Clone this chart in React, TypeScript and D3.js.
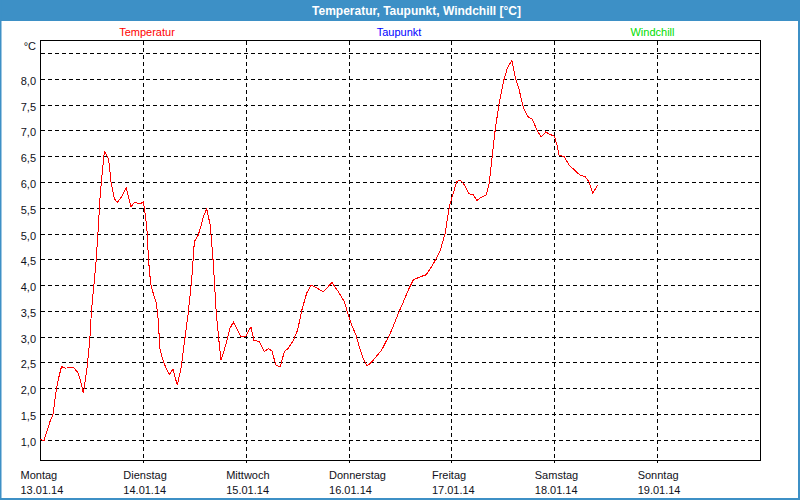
import React from "react";
import * as d3 from "d3";

const titleText = "Temperatur, Taupunkt, Windchill [°C]";
const legendLabels = ["Temperatur", "Taupunkt", "Windchill"];
const legendColors = ["#ff0000", "#0000ff", "#00dd00"];
const dayNames = ["Montag", "Dienstag", "Mittwoch", "Donnerstag", "Freitag", "Samstag", "Sonntag"];
const dayDates = ["13.01.14", "14.01.14", "15.01.14", "16.01.14", "17.01.14", "18.01.14", "19.01.14"];
const yGridValues = [1.0, 1.5, 2.0, 2.5, 3.0, 3.5, 4.0, 4.5, 5.0, 5.5, 6.0, 6.5, 7.0, 7.5, 8.0, 8.5];
const yLabelValues = [1.0, 1.5, 2.0, 2.5, 3.0, 3.5, 4.0, 4.5, 5.0, 5.5, 6.0, 6.5, 7.0, 7.5, 8.0];
const yUnit = "°C";

// hours since Mon 13.01.14 00:00
const hours = [
  0.0, 0.8, 2.2, 2.9, 3.7, 4.3, 4.9, 5.7, 7.8, 8.8, 9.3, 10.0, 10.9, 11.5, 11.9, 12.5, 13.0, 13.4, 13.9, 14.4,
  14.9, 15.4, 15.9, 16.5, 17.2, 17.9, 18.9, 20.0, 21.1, 22.0, 23.2, 24.0, 24.3, 24.8, 25.2, 25.7, 26.3, 27.0,
  27.4, 27.9, 28.7, 29.5, 30.1, 30.9, 31.4, 31.9, 32.8, 33.7, 34.5, 35.3, 35.9, 36.8, 37.4, 38.0, 38.8, 39.6,
  40.3, 41.0, 41.5, 42.1, 42.7, 43.5, 44.2, 45.0, 45.8, 46.8, 47.9, 49.1, 49.8, 51.1, 52.2, 53.2, 54.0, 54.9,
  55.9, 56.9, 57.8, 59.0, 60.0, 61.0, 62.1, 63.1, 64.5, 66.0, 68.0, 69.5, 70.9, 71.7, 72.6, 73.6, 74.6, 75.3,
  76.2, 77.3, 79.6, 81.6, 83.5, 84.9, 85.8, 87.0, 88.6, 90.0, 91.3, 93.2, 94.4, 95.4, 96.3, 97.1, 97.9, 98.7,
  100.0, 101.0, 101.8, 103.0, 104.0, 104.7, 105.3, 106.1, 107.0, 108.0, 108.9, 110.0, 110.7, 111.7, 112.7,
  113.8, 114.8, 115.8, 116.8, 117.9, 118.9, 119.9, 120.5, 121.0, 122.2, 123.3, 124.6, 125.9, 127.1, 128.0,
  128.9, 130.0
];
const temperature = [
  1.02, 0.99, 1.36, 1.50, 1.99, 2.23, 2.43, 2.40, 2.41, 2.30, 2.17, 1.91, 2.43, 2.94, 3.53, 4.04, 4.50, 5.01, 5.72, 6.18,
  6.60, 6.53, 6.45, 5.98, 5.69, 5.61, 5.72, 5.89, 5.53, 5.62, 5.58, 5.63, 5.47, 5.14, 4.50, 4.04, 3.85, 3.66,
  3.40, 2.75, 2.52, 2.36, 2.28, 2.38, 2.23, 2.07, 2.40, 2.98, 3.49, 4.14, 4.85, 4.98, 5.14, 5.34, 5.49, 5.17,
  4.46, 3.49, 3.04, 2.56, 2.69, 2.94, 3.17, 3.29, 3.17, 3.01, 3.02, 3.20, 2.94, 2.91, 2.72, 2.78, 2.73, 2.46,
  2.42, 2.72, 2.78, 2.94, 3.14, 3.53, 3.85, 4.01, 3.95, 3.88, 4.06, 3.88, 3.69, 3.46, 3.24, 3.04, 2.75, 2.59,
  2.44, 2.52, 2.75, 3.07, 3.46, 3.73, 3.91, 4.11, 4.17, 4.21, 4.37, 4.66, 5.01, 5.53, 5.79, 6.01, 6.05, 5.98,
  5.78, 5.76, 5.65, 5.72, 5.76, 5.98, 6.44, 7.02, 7.53, 7.95, 8.21, 8.37, 8.06, 7.79, 7.44,
  7.27, 7.22, 7.02, 6.88, 6.98, 6.93, 6.90, 6.73, 6.53, 6.50, 6.34, 6.24, 6.14, 6.11, 6.01,
  5.79, 5.95
];

const W = 800;
const H = 500;
const plotL = 40.5;
const plotR = 760.5;
const plotT = 40.5;
const plotB = 460.5;
const blue = "#3d90c6";
const font = "'Liberation Sans', Arial, sans-serif";

export default function App() {
  const x = d3.scaleLinear().domain([0, 168]).range([plotL, plotR]);
  const y = d3.scaleLinear().domain([1, 8.5]).range([440.3, 53.5]);
  const line = d3
    .line<number>()
    .x((_, i) => x(hours[i]))
    .y((d) => y(d));
  const fmt = (v: number) => d3.format(".1f")(v).replace(".", ",");
  const snap = (v: number) => Math.round(v - 0.5) + 0.5;
  const legendX = [147, 399, 652.5];

  return (
    <div style={{ position: "fixed", left: 0, top: 0 }}>
      <svg width={W} height={H} style={{ display: "block" }}>
        <rect x={0} y={0} width={W} height={H} fill="#ffffff" />
        <rect x={0} y={0} width={W} height={21} fill={blue} />
        <rect x={0} y={0} width={1.5} height={H} fill={blue} />
        <rect x={W - 2} y={0} width={2} height={H} fill={blue} />
        <rect x={0} y={H - 2} width={W} height={2} fill={blue} />
        <text x={416.5} y={14.5} textAnchor="middle" fill="#ffffff" fontFamily={font} fontWeight="bold" fontSize={12}>
          {titleText}
        </text>
        {legendLabels.map((l, i) => (
          <text key={l} x={legendX[i]} y={36} textAnchor="middle" fill={legendColors[i]} fontFamily={font} fontSize={11}>
            {l}
          </text>
        ))}
        {/* horizontal grid */}
        <g shapeRendering="crispEdges" stroke="#000" strokeDasharray="4,3">
          {yGridValues.map((v) => (
            <line key={v} x1={plotL} x2={plotR} y1={snap(y(v))} y2={snap(y(v))} />
          ))}
          {dayNames.slice(1).map((_, i) => (
            <line key={i} x1={snap(x((i + 1) * 24))} x2={snap(x((i + 1) * 24))} y1={plotT} y2={plotB + 2} />
          ))}
        </g>
        <rect x={plotL} y={plotT} width={plotR - plotL} height={plotB - plotT} fill="none" stroke="#000" shapeRendering="crispEdges" />
        {yLabelValues.map((v) => (
          <text key={v} x={36} y={y(v) + 5.5} textAnchor="end" fill="#101020" fontFamily={font} fontSize={11}>
            {fmt(v)}
          </text>
        ))}
        <text x={36} y={50} textAnchor="end" fill="#101020" fontFamily={font} fontSize={11}>
          {yUnit}
        </text>
        {dayNames.map((d, i) => (
          <g key={d}>
            <text x={x(i * 24) - 20} y={479} fill="#101020" fontFamily={font} fontSize={11}>
              {d}
            </text>
            <text x={x(i * 24) - 20} y={494} fill="#101020" fontFamily={font} fontSize={11}>
              {dayDates[i]}
            </text>
          </g>
        ))}
        <path d={line(temperature) || ""} fill="none" stroke="#ff0000" strokeWidth={1} shapeRendering="crispEdges" />
      </svg>
    </div>
  );
}
